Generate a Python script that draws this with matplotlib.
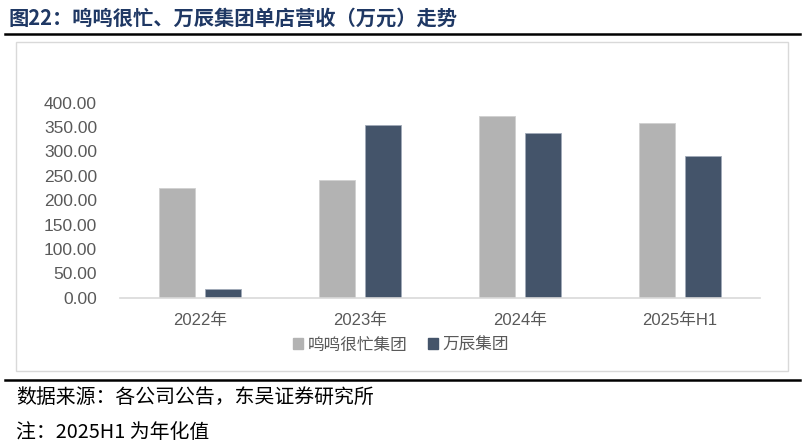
import matplotlib
matplotlib.use('Agg')
import matplotlib.pyplot as plt
from matplotlib.lines import Line2D
from matplotlib.patches import Rectangle, Patch
import numpy as np

plt.rcParams['font.family'] = ['Liberation Sans', 'Noto Sans CJK SC', 'DejaVu Sans']

categories = ['2022年', '2023年', '2024年', '2025年H1']
mingming = [225, 241, 373, 358]
wanchen = [17, 354, 337, 291]
series_names = ['鸣鸣很忙集团', '万辰集团']
yticks = [0, 50, 100, 150, 200, 250, 300, 350, 400]

gray = '#b3b3b3'
navy = '#44546a'
txt = '#595959'

fig = plt.figure(figsize=(8.05, 4.44), dpi=100)
ax = fig.add_axes([120/805, 1-297.7/444, 640/805, 195/444])

x = np.arange(len(categories))
w = 0.225
off = 0.14375
ax.bar(x - off, mingming, w, color=gray, edgecolor='#d0d0d0', linewidth=0.6, label=series_names[0])
ax.bar(x + off, wanchen, w, color=navy, edgecolor='#a0aab8', linewidth=0.6, label=series_names[1])

ax.set_xlim(-0.5, 3.5)
ax.set_ylim(0, 400)
ax.set_yticks(yticks)
ax.set_yticklabels(['%.2f' % v for v in yticks], color=txt, fontsize=12.5)
ax.set_xticks(x)
ax.set_xticklabels(categories, color=txt, fontsize=12)
ax.tick_params(axis='both', length=0)
ax.tick_params(axis='x', pad=11)
ax.tick_params(axis='y', pad=16.5)
for s in ['top', 'right', 'left']:
    ax.spines[s].set_visible(False)
ax.spines['bottom'].set_color('#d9d9d9')
ax.spines['bottom'].set_linewidth(1.2)

handles = [Patch(color=gray), Patch(color=navy)]
fig.legend(handles, series_names, loc='center', bbox_to_anchor=(401/805, 1-345/444),
           ncol=2, frameon=False, handlelength=0.6, handleheight=0.6, handletextpad=0.3,
           columnspacing=1.2, prop={'size': 12}, labelcolor=txt)

# chart frame
fig.add_artist(Rectangle((16/805, 1-371/444), 772/805, 329/444, transform=fig.transFigure,
                         fill=False, edgecolor='#d9d9d9', linewidth=1))

# title and rules
fig.text(8/805, 1-18/444, '图22：鸣鸣很忙、万辰集团单店营收（万元）走势', fontsize=14.6,
         fontweight='bold', color='#1f3864', va='center', ha='left',
         family=['Noto Sans CJK SC', 'DejaVu Sans'])
fig.add_artist(Line2D([5/805, 800/805], [1-34/444, 1-34/444], transform=fig.transFigure,
                      color='black', linewidth=1.8))
fig.add_artist(Line2D([5/805, 800/805], [1-380/444, 1-380/444], transform=fig.transFigure,
                      color='black', linewidth=1.8))

fig.text(16/805, 1-397/444, '数据来源：各公司公告，东吴证券研究所', fontsize=14.3,
         color='black', va='center', ha='left', family=['Noto Sans CJK SC', 'DejaVu Sans'])
fig.text(16/805, 1-432/444, '注：2025H1 为年化值', fontsize=14.3,
         color='black', va='center', ha='left', family=['Noto Sans CJK SC', 'DejaVu Sans'])

fig.savefig('out.png', dpi=100)
